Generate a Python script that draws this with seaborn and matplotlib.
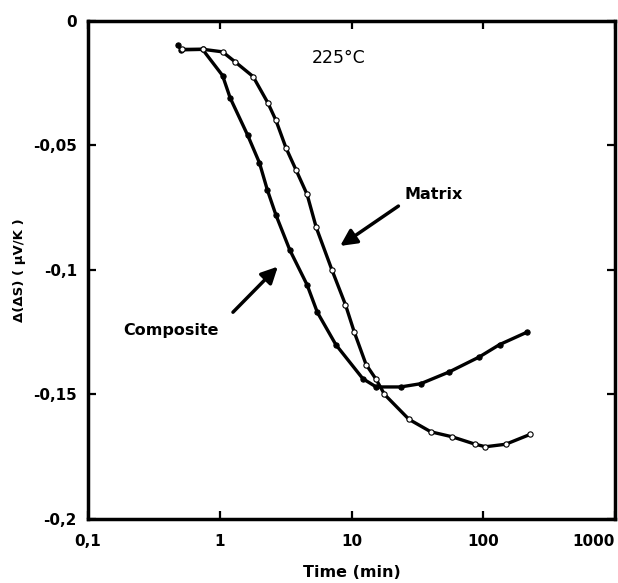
import matplotlib
matplotlib.use("Agg")
import matplotlib.pyplot as plt
import seaborn as sns

# Composite (filled circles)
comp_time = [0.48, 0.51, 0.74, 1.05, 1.2, 1.63, 2.0, 2.3, 2.67, 3.4, 4.6, 5.5,
             7.6, 12.2, 15.4, 23.6, 33.5, 55, 93, 133, 215]
comp_val = [-0.0097, -0.0117, -0.0115, -0.022, -0.031, -0.046, -0.057, -0.068,
            -0.078, -0.092, -0.106, -0.117, -0.130, -0.1437, -0.147, -0.147,
            -0.1457, -0.141, -0.135, -0.130, -0.125]

# Matrix (open circles)
matrix_time = [0.52, 0.75, 1.05, 1.3, 1.79, 2.32, 2.67, 3.18, 3.8, 4.6, 5.4,
               7.1, 9.0, 10.5, 12.9, 15.4, 17.8, 27.3, 40, 58, 87, 104, 148, 228]
matrix_val = [-0.0115, -0.0115, -0.0125, -0.0164, -0.0224, -0.033, -0.040,
              -0.051, -0.060, -0.0697, -0.083, -0.100, -0.114, -0.125, -0.138,
              -0.144, -0.150, -0.160, -0.165, -0.167, -0.170, -0.171, -0.170,
              -0.166]

x_ticks = [0.1, 1, 10, 100, 1000]
x_tick_labels = ["0,1", "1", "10", "100", "1000"]
y_ticks = [0, -0.05, -0.1, -0.15, -0.2]
y_tick_labels = ["0", "-0,05", "-0,1", "-0,15", "-0,2"]

sns.set_style("ticks")
plt.rcParams["font.family"] = ["DejaVu Sans"]
# black text and frame instead of seaborn's dark gray
for key in ["axes.edgecolor", "text.color", "axes.labelcolor",
            "xtick.color", "ytick.color"]:
    plt.rcParams[key] = "black"

# Create the figure with a fixed axes box
fig = plt.figure(figsize=(6.18, 5.83), dpi=100)
ax = fig.add_axes([88 / 618, 1 - 519 / 583, 527 / 618, 498.3 / 583])

# Plot both curves
sns.lineplot(x=comp_time, y=comp_val, ax=ax, color="black", linewidth=2.4,
             marker="o", markersize=3.8, markerfacecolor="black",
             markeredgecolor="black")
sns.lineplot(x=matrix_time, y=matrix_val, ax=ax, color="black", linewidth=2.4,
             marker="o", markersize=3.8, markerfacecolor="white",
             markeredgecolor="black", markeredgewidth=0.8)

# Axes setup
ax.set_xscale("log")
ax.set_xlim(0.1, 1000)
ax.set_ylim(-0.2, 0)
ax.set_xticks(x_ticks)
ax.set_xticklabels(x_tick_labels)
ax.set_yticks(y_ticks)
ax.set_yticklabels(y_tick_labels)
ax.minorticks_off()
ax.tick_params(direction="in", length=5.5, width=1.6, top=True, right=True,
               labelsize=11, colors="black")
ax.tick_params(axis="x", pad=11)
ax.tick_params(axis="y", pad=8)
for lab in ax.get_xticklabels() + ax.get_yticklabels():
    lab.set_fontweight("bold")
ax.get_xticklabels()[-1].set_ha("right")
for sp in ax.spines.values():
    sp.set_linewidth(2.5)
    sp.set_color("black")
    sp.set_visible(True)

ax.set_xlabel("Time (min)", fontsize=11.5, fontweight="bold")
ax.xaxis.set_label_coords(0.5, -0.092)
ax.set_ylabel("Δ(ΔS) ( μV/K )", fontsize=9.5, fontweight="bold")
ax.yaxis.set_label_coords(-0.118, 0.5)

# Annotations
ax.text(8.0, -0.0148, "225°C", fontsize=12.5, ha="center", va="center")
ax.text(41.7, -0.0697, "Matrix", fontsize=11.5, fontweight="bold",
        ha="center", va="center")
ax.text(0.43, -0.1245, "Composite", fontsize=11.5, fontweight="bold",
        ha="center", va="center")
arrow = dict(arrowstyle="-|>,head_length=0.7,head_width=0.35", lw=2.5,
             color="black", shrinkA=0, shrinkB=0, mutation_scale=14)
ax.annotate("", xy=(8.2, -0.0904), xytext=(22.7, -0.0744), arrowprops=arrow)
ax.annotate("", xy=(2.76, -0.0987), xytext=(1.26, -0.117), arrowprops=arrow)

fig.savefig("out.png", dpi=100)
